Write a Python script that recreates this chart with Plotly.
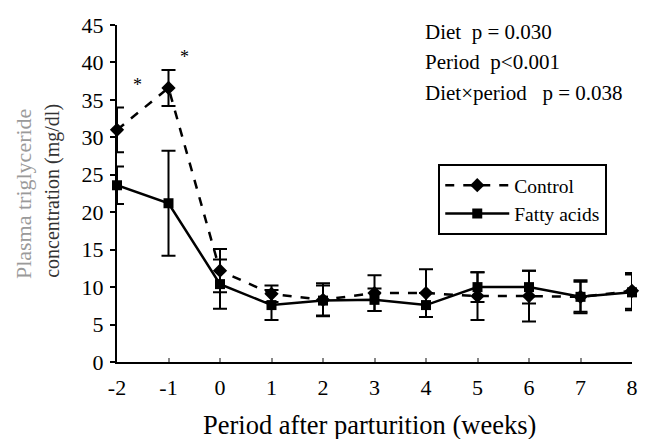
import plotly.graph_objects as go

weeks = [-2, -1, 0, 1, 2, 3, 4, 5, 6, 7, 8]
control = [31.0, 36.6, 12.2, 9.1, 8.3, 9.2, 9.2, 8.8, 8.8, 8.7, 9.5]
control_err = [3.0, 2.4, 2.9, 1.1, 2.2, 2.4, 3.2, 3.2, 3.4, 2.2, 2.4]
fatty = [23.6, 21.2, 10.4, 7.6, 8.2, 8.3, 7.6, 10.0, 10.0, 8.7, 9.3]
fatty_err = [2.5, 7.0, 3.3, 2.0, 2.0, 1.5, 1.6, 2.0, 2.2, 2.0, 2.4]
stats = ["Diet\u00a0\u00a0p = 0.030", "Period\u00a0\u00a0p<0.001", "Diet\u00d7period\u00a0\u00a0\u00a0p = 0.038"]

FONT = "Liberation Serif, Times New Roman, serif"

W, H = 647, 439
PL, PR, PT, PB = 117, 638, 25, 362  # plot area in page pixels
L, T = PL, PT
R, B = W - PR, H - PB
pw, ph = PR - PL, PB - PT


def px(x):
    return (x - PL) / pw


def py(y):
    return 1 - (y - PT) / ph


fig = go.Figure()
fig.add_trace(go.Scatter(
    x=weeks, y=control, name="Control", mode="lines+markers",
    line=dict(color="black", width=2.5, dash="dash"),
    marker=dict(symbol="diamond", size=11, color="black"),
    error_y=dict(type="data", array=control_err, color="black", thickness=2, width=7),
))
fig.add_trace(go.Scatter(
    x=weeks, y=fatty, name="Fatty acids", mode="lines+markers",
    line=dict(color="black", width=2.5),
    marker=dict(symbol="square", size=10, color="black"),
    error_y=dict(type="data", array=fatty_err, color="black", thickness=2, width=7),
))

annos = [
    dict(x=px(131), y=py(73), text="*", showarrow=False, xref="paper", yref="paper",
         font=dict(size=18, family=FONT, color="#000000")),
    dict(x=px(179), y=py(45), text="*", showarrow=False, xref="paper", yref="paper",
         font=dict(size=18, family=FONT, color="#000000")),
]
for txt, yy in zip(stats, [32, 62, 93]):
    annos.append(dict(x=px(427), y=py(yy), text=txt, showarrow=False,
                      xref="paper", yref="paper", xanchor="left", yanchor="middle",
                      font=dict(size=21, family=FONT, color="#000000")))
annos.append(dict(x=px(22), y=py(194), text="Plasma triglyceride", textangle=-90,
                  showarrow=False, xref="paper", yref="paper", xanchor="center", yanchor="middle",
                  font=dict(size=22, family=FONT, color="#9a9a9a")))
annos.append(dict(x=px(51), y=py(191), text="concentration (mg/dl)", textangle=-90,
                  showarrow=False, xref="paper", yref="paper", xanchor="center", yanchor="middle",
                  font=dict(size=20, family=FONT, color="#333333")))
annos.append(dict(x=px(372), y=py(425), text="Period after parturition (weeks)",
                  showarrow=False, xref="paper", yref="paper", xanchor="center", yanchor="middle",
                  font=dict(size=26.5, family=FONT, color="#000000")))

fig.update_layout(
    width=W, height=H,
    margin=dict(l=L, r=R, t=T, b=B, pad=0),
    autosize=False,
    paper_bgcolor="white", plot_bgcolor="white",
    font=dict(family=FONT, color="black"),
    showlegend=True,
    legend=dict(x=px(442), y=py(164), xanchor="left", yanchor="top",
                bordercolor="black", borderwidth=2, bgcolor="white",
                font=dict(size=19.5, family=FONT, color="black"),
                tracegroupgap=0, itemwidth=64),
    annotations=annos,
    xaxis=dict(range=[-2, 8], tickmode="array", tickvals=weeks,
               ticktext=[str(w) for w in weeks],
               showgrid=False, zeroline=False, showline=True, linecolor="black", linewidth=2,
               ticks="inside", ticklen=4, tickcolor="#888", tickwidth=2, ticklabelstandoff=5,
               tickfont=dict(size=22, family=FONT, color="black")),
    yaxis=dict(range=[0, 45], tickmode="array", tickvals=list(range(0, 46, 5)),
               showgrid=False, zeroline=False, showline=True, linecolor="black", linewidth=2,
               ticks="outside", ticklen=5, tickcolor="black", tickwidth=2, ticklabelstandoff=2,
               tickfont=dict(size=22, family=FONT, color="black")),
)
fig.update_traces(cliponaxis=False)

fig.write_html("out.html", config={"displayModeBar": False},
               post_script="document.body.style.margin='0';document.body.style.overflow='hidden';")
